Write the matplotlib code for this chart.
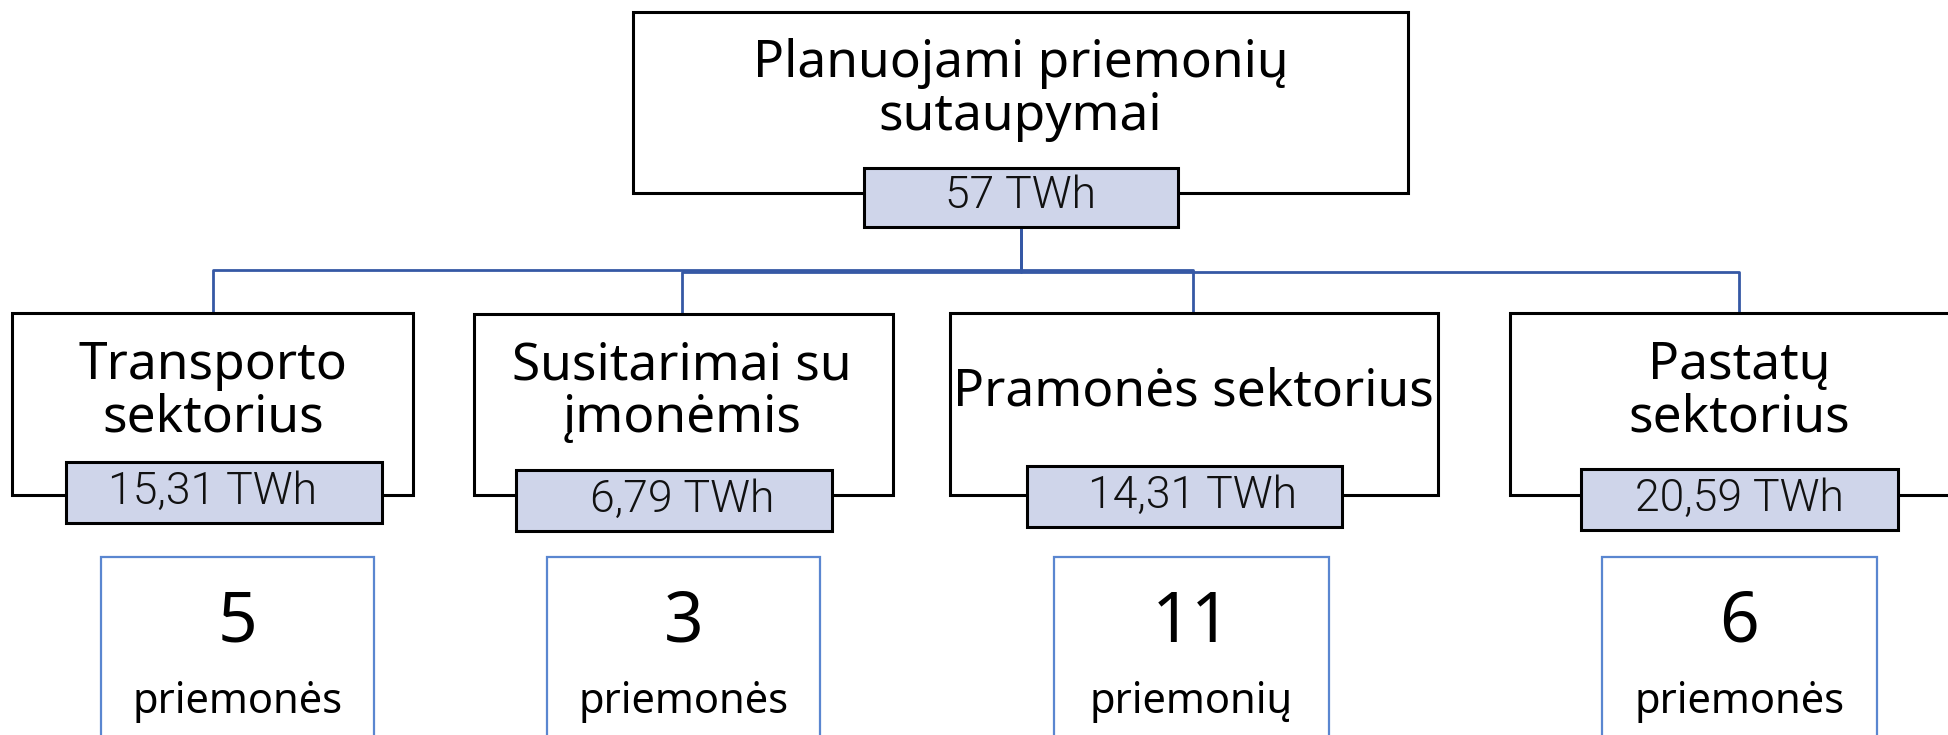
import matplotlib.pyplot as plt
from matplotlib.patches import Rectangle

plt.rcParams['font.family'] = ['Noto Sans', 'DejaVu Sans']

# data
root_label = "Planuojami priemonių\nsutaupymai"
root_value = "57 TWh"
sectors = ["Transporto\nsektorius", "Susitarimai su\nįmonėmis",
           "Pramonės sektorius", "Pastatų\nsektorius"]
savings = ["15,31 TWh", "6,79 TWh", "14,31 TWh", "20,59 TWh"]
counts = [5, 3, 11, 6]
count_words = ["priemonės", "priemonės", "priemonių", "priemonės"]

# layout in pixel units (figure is 1949 x 735)
W, H = 1949, 735
root_box = (633, 12, 1408, 193)
root_val_box = (864, 168, 1178, 227)
sector_boxes = [(12, 313, 413, 495), (474, 314, 893, 495),
                (950, 313, 1438, 495), (1510, 313, 1970, 495)]
value_boxes = [(66, 462, 382, 523), (516, 470, 832, 531),
               (1027, 466, 1342, 527), (1581, 469, 1898, 530)]
count_boxes = [(101, 557, 374, 760), (547, 557, 820, 760),
               (1054, 557, 1329, 760), (1602, 557, 1877, 760)]
sector_x = [213, 682, 1193, 1739]
elbow_y = [270, 272, 270, 272]

LINE_BLUE = "#3558a5"
BOX_BLUE = "#5a86d0"
FILL = "#cfd5ea"
LIGHT = ['Roboto', 'Noto Sans', 'DejaVu Sans']


def box(ax, b, edge="black", lw=2.2, fill="white", z=2):
    x0, y0, x1, y1 = b
    ax.add_patch(Rectangle((x0, y0), x1 - x0, y1 - y0, facecolor=fill,
                           edgecolor=edge, linewidth=lw, zorder=z))


fig = plt.figure(figsize=(W / 100, H / 100), dpi=100)
ax = fig.add_axes([0, 0, 1, 1])
ax.set_xlim(0, W)
ax.set_ylim(H, 0)
ax.axis("off")

# root
box(ax, root_box)
ax.text((root_box[0] + root_box[2]) / 2, 90, root_label, ha="center",
        va="center", fontsize=37, linespacing=1.05, zorder=5)
box(ax, root_val_box, fill=FILL, z=3)
ax.text((root_val_box[0] + root_val_box[2]) / 2, 196, root_value,
        ha="center", va="center", fontsize=32, fontweight=300,
        family=LIGHT, color="#111111", zorder=5)

# connectors
cx = (root_val_box[0] + root_val_box[2]) / 2
for x, ey, b in zip(sector_x, elbow_y, sector_boxes):
    ax.plot([cx, cx, x, x], [root_val_box[3], ey, ey, b[1]],
            color=LINE_BLUE, lw=2, zorder=1)

# sectors
for i in range(len(sectors)):
    sb, vb, cb = sector_boxes[i], value_boxes[i], count_boxes[i]
    x = sector_x[i]
    box(ax, sb)
    ax.text(x, 392, sectors[i], ha="center", va="center", fontsize=37,
            linespacing=1.05, zorder=5)
    box(ax, vb, fill=FILL, z=3)
    ax.text(x, (vb[1] + vb[3]) / 2 - 1, savings[i], ha="center",
            va="center", fontsize=32, fontweight=300, family=LIGHT,
            color="#111111", zorder=5)
    box(ax, cb, edge=BOX_BLUE, lw=1.6)
    bx = (cb[0] + cb[2]) / 2
    ax.text(bx, 624, str(counts[i]), ha="center", va="center", fontsize=50,
            zorder=5)
    ax.text(bx, 702, count_words[i], ha="center", va="center", fontsize=30,
            zorder=5)

fig.savefig("out.png", dpi=100)
